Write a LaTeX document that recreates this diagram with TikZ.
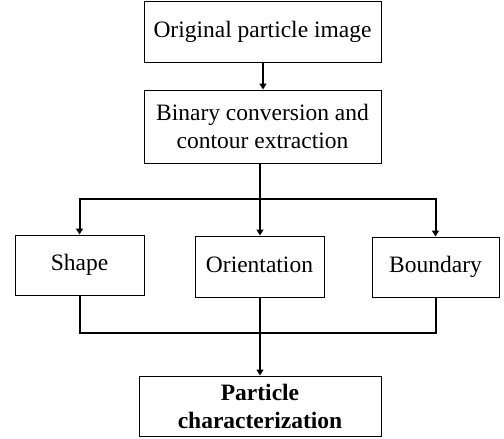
\documentclass[tikz,border=0pt]{standalone}
\usepackage{fontspec}
\setmainfont{Liberation Serif}
\usetikzlibrary{arrows.meta}
\begin{document}
\begin{tikzpicture}[x=1pt,y=-1pt,
  box/.style={draw,line width=1pt,inner sep=0pt,align=center,font=\fontsize{23.5}{28}\selectfont},
  one/.style={text height=16pt,text depth=5pt},
  arr/.style={line width=2pt,-{Triangle[length=6pt,width=7pt]}},
  ln/.style={line width=2pt}]
\useasboundingbox (0,0) rectangle (504,439);
\node[box,one,minimum width=237pt,minimum height=61pt] (b1) at (262.5,31.5) {Original particle image};
\node[box,minimum width=237pt,minimum height=73pt] (b2) at (262.5,126.5) {Binary conversion and\\contour extraction};
\node[box,one,minimum width=129pt,minimum height=60pt] (shape) at (79.5,265) {Shape};
\node[box,one,minimum width=129pt,minimum height=61pt] (orient) at (259.5,266.5) {Orientation};
\node[box,one,minimum width=127pt,minimum height=60pt] (bound) at (435.5,267) {Boundary};
\node[box,minimum width=242pt,minimum height=60pt,font=\fontsize{23.5}{28}\selectfont\bfseries] (final) at (260,406) {Particle\\characterization};
\coordinate (j1) at (260,199);
\coordinate (j2) at (260,333);
\coordinate (t1) at (263,0);
\draw[arr] (b1.south -| t1) -- (b2.north -| t1);
\draw[ln] (b2.south -| j1) -- (j1);
\draw[arr] (j1) -| (shape);
\draw[arr] (j1) -| (bound);
\draw[arr] (j1) -- (orient.north -| j1);
\draw[ln] (shape.south) |- (j2) -| (bound.south);
\draw[ln] (orient.south -| j2) -- (j2);
\draw[arr] (j2) -- (final.north -| j2);
\end{tikzpicture}
\end{document}
